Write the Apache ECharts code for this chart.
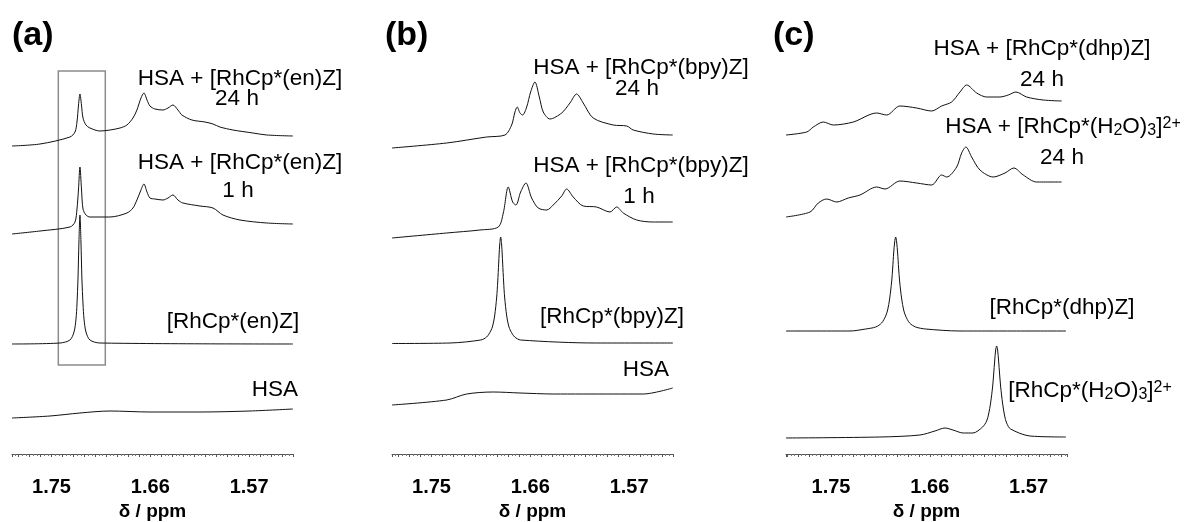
<!DOCTYPE html>
<html>
<head>
<meta charset="utf-8">
<script src="https://cdn.jsdelivr.net/npm/echarts@6/dist/echarts.min.js"></script>
<style>
  html, body { margin: 0; padding: 0; background: #fff; }
  #chart { width: 1186px; height: 522px; }
</style>
</head>
<body>
<div id="chart"></div>
<script>
// chemical shift axis labels (ppm)
var tickLabels = [1.75, 1.66, 1.57];

// panel (a)  -- ppm positions and intensities (arbitrary units) of each trace
var aEn24Ppm = [1.786,1.7605,1.7332,1.7286,1.7268,1.7254,1.7241,1.7227,1.7213,1.7186,1.7150,1.7059,1.6967,1.6876,1.6813,1.6758,1.6722,1.6685,1.6658,1.6630,1.6603,1.6558,1.6485,1.6439,1.6394,1.6348,1.6312,1.6221,1.6102,1.6029,1.5966,1.5847,1.5665,1.5538,1.5301];
var aEn24Int = [8,10,17,22,32,49,60,49,36,29,26,23,24,26,29,36,44,56,61,54,48,45,44,46,49,44,39,34,32,30,27,24,21,19,18];
var aEn1Ppm = [1.786,1.7605,1.7332,1.7286,1.7268,1.7254,1.7241,1.7227,1.7213,1.7186,1.7150,1.7059,1.6967,1.6813,1.6758,1.6722,1.6685,1.6658,1.6630,1.6603,1.6558,1.6485,1.6439,1.6394,1.6348,1.6303,1.6148,1.6029,1.5938,1.5783,1.5538,1.5301];
var aEn1Int = [5,8,12,17,30,50,72,50,30,24,22,22,22,26,31,39,49,55,47,41,40,39,41,44,39,36,33,31,24,19,16,15];
var aEnPpm = [1.786,1.7423,1.7332,1.7295,1.7277,1.7268,1.7259,1.7250,1.7241,1.7232,1.7223,1.7213,1.7204,1.7186,1.7150,1.7059,1.5301];
var aEnInt = [0,1,4,12,25,40,65,103,129,103,65,40,25,12,4,1,0];
var aHsaPpm = [1.786,1.7514,1.7241,1.6967,1.6603,1.6148,1.5692,1.5301];
var aHsaInt = [6,8,11,13,12,12,13,15];
var aOffsets = [300, 215, 110, 30];

// panel (b)
var bBpy24Ppm = [1.786,1.7362,1.6998,1.6831,1.6770,1.6740,1.6719,1.6694,1.6670,1.6633,1.6597,1.6558,1.6518,1.6482,1.6421,1.6314,1.6239,1.6178,1.6118,1.6027,1.5845,1.5722,1.5662,1.5480,1.5303];
var bBpy24Int = [6,11,17,19,29,42,47,41,39,47,62,72,57,42,35,41,51,60,51,36,29,28,24,20,19];
var bBpy1Ppm = [1.786,1.7362,1.7059,1.6892,1.6846,1.6801,1.6761,1.6731,1.6688,1.6640,1.6588,1.6528,1.6451,1.6391,1.6314,1.6269,1.6209,1.6118,1.5996,1.5874,1.5813,1.5753,1.5631,1.5480,1.5303];
var bBpy1Int = [6,11,14,17,31,57,42,39,52,61,46,36,34,39,48,55,47,38,37,32,37,31,24,22,22];
var bBpyPpm = [1.786,1.7332,1.7052,1.6998,1.6961,1.6943,1.6925,1.6906,1.6897,1.6888,1.6879,1.6870,1.6861,1.6852,1.6843,1.6834,1.6815,1.6797,1.6779,1.6742,1.6688,1.6000,1.5301];
var bBpyInt = [0.5,1,4,7,13,18,28,47,62,81,99,107,99,81,62,47,28,18,13,7,4,1,1];
var bHsaPpm = [1.786,1.7362,1.7180,1.6937,1.6694,1.6391,1.5845,1.5571,1.5303];
var bHsaInt = [4,9,15,17,16,15,15,15,21];
var bOffsets = [300, 210, 110, 45];

// panel (c)
var cDhp24Ppm = [1.791,1.7721,1.7661,1.7570,1.7479,1.7297,1.7084,1.6993,1.6872,1.6720,1.6583,1.6492,1.6401,1.6325,1.6264,1.6173,1.6082,1.5961,1.5885,1.5815,1.5718,1.5567,1.5399];
var cDhp24Int = [9,12,17,22,19,22,31,29,38,36,33,38,42,52,59,51,47,47,49,52,47,44,43];
var cAqua24Ppm = [1.791,1.7691,1.7616,1.7539,1.7448,1.7343,1.7236,1.7084,1.7008,1.6872,1.6720,1.6583,1.6492,1.6446,1.6355,1.6310,1.6271,1.6219,1.6143,1.6022,1.5915,1.5834,1.5749,1.5627,1.5399];
var cAqua24Int = [7,12,21,25,22,26,29,37,35,43,41,39,49,47,57,71,77,67,54,47,51,56,49,42,42];
var cDhpPpm = [1.791,1.7327,1.7184,1.7093,1.7039,1.7002,1.6984,1.6966,1.6947,1.6938,1.6929,1.6920,1.6911,1.6902,1.6893,1.6884,1.6875,1.6856,1.6838,1.6820,1.6784,1.6729,1.6638,1.6325,1.536];
var cDhpInt = [3,3,5,7,11,18,24,35,53,66,81,92,97,92,81,66,53,35,24,18,11,7,5,3,3];
var cAquaPpm = [1.791,1.7054,1.6690,1.6553,1.6462,1.6389,1.6295,1.6207,1.6119,1.6082,1.6064,1.6046,1.6027,1.6018,1.6009,1.6000,1.5991,1.5982,1.5973,1.5964,1.5955,1.5936,1.5918,1.5900,1.5864,1.5688,1.536];
var cAquaInt = [1,2,4,8,11,9,6,6,12,18,25,36,53,65,78,89,93,89,78,65,53,35,23,16,10,3,2];
var cOffsets = [310, 230, 120, 15];

// ppm window of each panel
var axisMin = [1.53, 1.53, 1.535];
var axisMax = [1.786, 1.786, 1.791];

var FONT = '"Liberation Sans", Arial, Helvetica, sans-serif';

var chart = echarts.init(document.getElementById('chart'));

function spectrum(idx, ppm, inten, offset) {
  var data = [];
  for (var i = 0; i < ppm.length; i++) {
    data.push([ppm[i], offset + inten[i]]);
  }
  return {
    type: 'line',
    xAxisIndex: idx,
    yAxisIndex: idx,
    data: data,
    symbol: 'none',
    smooth: 0.3,
    silent: true,
    lineStyle: { color: '#111', width: 1 }
  };
}

function xAxisFor(idx) {
  return {
    type: 'value',
    gridIndex: idx,
    inverse: true,
    min: axisMin[idx],
    max: axisMax[idx],
    splitNumber: 26,
    name: 'δ / ppm',
    nameLocation: 'middle',
    nameGap: 43,
    nameTextStyle: { fontFamily: FONT, fontSize: 19, fontWeight: 'bold', color: '#000' },
    axisLine: { lineStyle: { color: '#555', width: 1 } },
    axisTick: { show: true, length: 3, lineStyle: { color: '#555' } },
    minorTick: { show: true, splitNumber: 3, length: 2, lineStyle: { color: '#777' } },
    splitLine: { show: false },
    minorSplitLine: { show: false },
    axisLabel: {
      interval: 0,
      margin: 23,
      fontFamily: FONT,
      fontSize: 20,
      fontWeight: 'bold',
      color: '#000',
      formatter: function (v) {
        for (var i = 0; i < tickLabels.length; i++) {
          if (Math.abs(v - tickLabels[i]) < 1e-6) return tickLabels[i].toFixed(2);
        }
        return '';
      }
    }
  };
}

function yAxisFor(idx) {
  return { type: 'value', gridIndex: idx, min: 0, max: 434, show: false };
}

function label(x, y, text, opts) {
  opts = opts || {};
  return {
    type: 'text',
    x: x,
    y: y,
    silent: true,
    style: {
      text: text,
      fill: '#000',
      fontFamily: FONT,
      fontSize: opts.size || 22.5,
      fontWeight: opts.bold ? 'bold' : 'normal',
      align: opts.align || 'center',
      verticalAlign: 'middle',
      textAlign: opts.align || 'center',
      textVerticalAlign: 'middle',
      rich: opts.rich
    }
  };
}

var chemRich = {
  sub: { fontFamily: FONT, fontSize: 16, verticalAlign: 'bottom', lineHeight: 15 },
  sup: { fontFamily: FONT, fontSize: 16, verticalAlign: 'top', lineHeight: 15 }
};

var series = [
  spectrum(0, aEn24Ppm, aEn24Int, aOffsets[0]),
  spectrum(0, aEn1Ppm, aEn1Int, aOffsets[1]),
  spectrum(0, aEnPpm, aEnInt, aOffsets[2]),
  spectrum(0, aHsaPpm, aHsaInt, aOffsets[3]),
  spectrum(1, bBpy24Ppm, bBpy24Int, bOffsets[0]),
  spectrum(1, bBpy1Ppm, bBpy1Int, bOffsets[1]),
  spectrum(1, bBpyPpm, bBpyInt, bOffsets[2]),
  spectrum(1, bHsaPpm, bHsaInt, bOffsets[3]),
  spectrum(2, cDhp24Ppm, cDhp24Int, cOffsets[0]),
  spectrum(2, cAqua24Ppm, cAqua24Int, cOffsets[1]),
  spectrum(2, cDhpPpm, cDhpInt, cOffsets[2]),
  spectrum(2, cAquaPpm, cAquaInt, cOffsets[3])
];

// grey box round the Cp* signal in panel (a)
series[2].markArea = {
  silent: true,
  itemStyle: { color: 'rgba(0,0,0,0)', borderColor: '#8c8c8c', borderWidth: 1.5 },
  data: [[{ coord: [1.7438, 89] }, { coord: [1.7010, 383] }]]
};

var option = {
  animation: false,
  backgroundColor: '#fff',
  grid: [
    { left: 12, width: 281, top: 20, height: 434, outerBoundsMode: 'none' },
    { left: 392, width: 281, top: 20, height: 434, outerBoundsMode: 'none' },
    { left: 786, width: 281, top: 20, height: 434, outerBoundsMode: 'none' }
  ],
  xAxis: [xAxisFor(0), xAxisFor(1), xAxisFor(2)],
  yAxis: [yAxisFor(0), yAxisFor(1), yAxisFor(2)],
  series: series,
  graphic: [
    label(12, 36, '(a)', { size: 34, bold: true, align: 'left' }),
    label(385, 36, '(b)', { size: 34, bold: true, align: 'left' }),
    label(773, 36, '(c)', { size: 34, bold: true, align: 'left' }),

    label(240, 79, 'HSA + [RhCp*(en)Z]'),
    label(237, 99, '24 h'),
    label(240, 163, 'HSA + [RhCp*(en)Z]'),
    label(238, 191, '1 h'),
    label(233, 322, '[RhCp*(en)Z]'),
    label(275, 390, 'HSA'),

    label(641, 68, 'HSA + [RhCp*(bpy)Z]'),
    label(637, 89, '24 h'),
    label(641, 166, 'HSA + [RhCp*(bpy)Z]'),
    label(639, 197, '1 h'),
    label(612, 317, '[RhCp*(bpy)Z]'),
    label(646, 370, 'HSA'),

    label(1042, 49, 'HSA + [RhCp*(dhp)Z]'),
    label(1042, 80, '24 h'),
    label(1063, 127, 'HSA + [RhCp*(H{sub|2}O){sub|3}]{sup|2+}', { rich: chemRich }),
    label(1062, 158, '24 h'),
    label(1062, 308, '[RhCp*(dhp)Z]'),
    label(1090, 391, '[RhCp*(H{sub|2}O){sub|3}]{sup|2+}', { rich: chemRich })
  ]
};

chart.setOption(option);
</script>
</body>
</html>
